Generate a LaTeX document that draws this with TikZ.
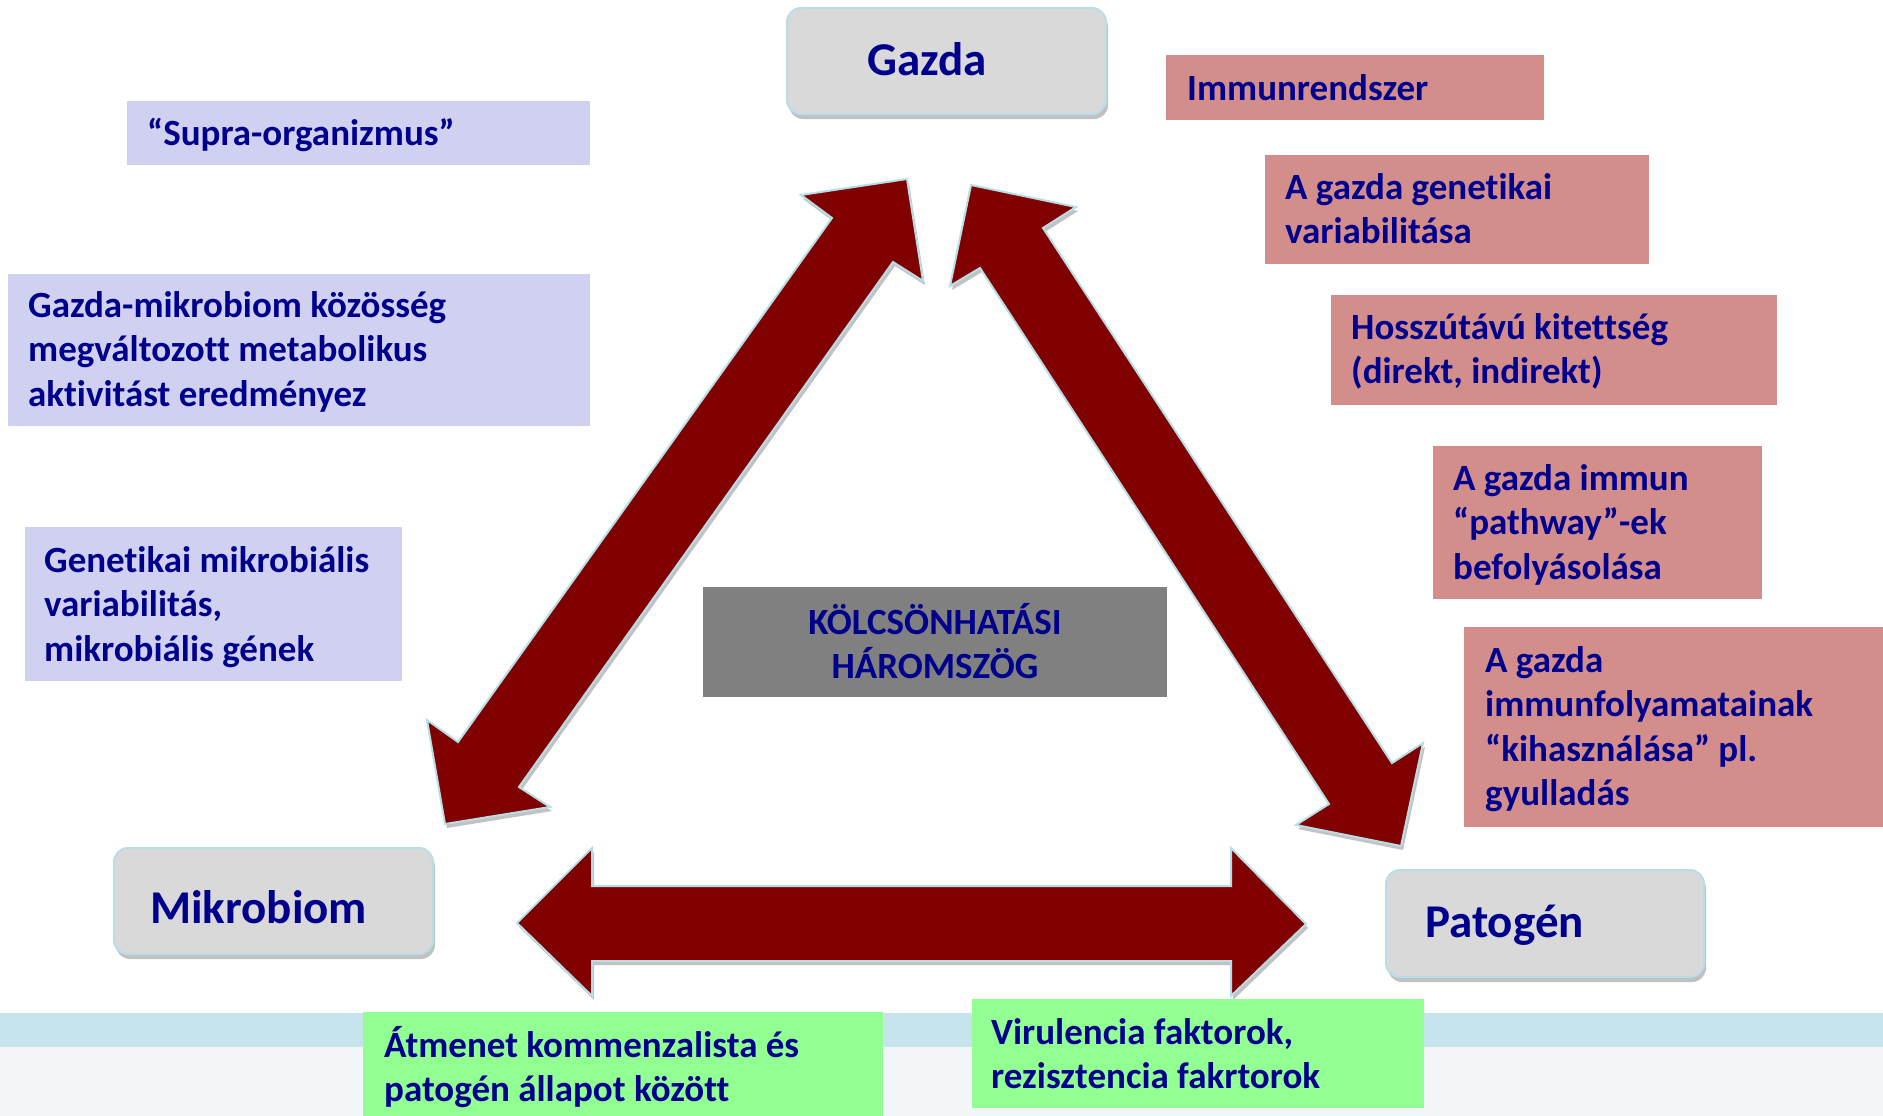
\documentclass[tikz,border=0pt]{standalone}
\usepackage{fontspec}
\setmainfont[Ligatures=NoCommon]{Carlito}
\usetikzlibrary{shadows}
\definecolor{txtblue}{RGB}{0,0,140}
\definecolor{boxgrey}{HTML}{D9D9D9}
\definecolor{boxedge}{HTML}{B7DDE8}
\definecolor{pinkc}{HTML}{D38E8C}
\definecolor{lavc}{HTML}{D0D0F0}
\definecolor{greenc}{HTML}{92FF92}
\definecolor{centerc}{HTML}{808080}
\definecolor{arrowred}{HTML}{800000}
\definecolor{bandc}{HTML}{C6E4EC}
\definecolor{lowc}{HTML}{F2F6F9}
\tikzset{
  mainbox/.style={draw=boxedge, line width=2pt, fill=boxgrey, rounded corners=14pt,
    inner sep=0pt, anchor=north west,
    drop shadow={shadow xshift=2pt, shadow yshift=-5pt, fill=black!35, opacity=0.7}},
  plainbox/.style={inner sep=0pt, anchor=north west, draw=none},
  bigtxt/.style={text=txtblue, font=\fontsize{47}{56}\selectfont\bfseries, inner sep=0pt, anchor=base west},
  boxtxt/.style={text=txtblue, font=\fontsize{37}{44.5}\selectfont\bfseries, inner sep=0pt, anchor=base west, align=left},
  blockarrow/.style={fill=arrowred, draw=boxedge, line width=2pt, line join=miter,
    drop shadow={shadow xshift=2pt, shadow yshift=-4pt, fill=black!40, opacity=0.6}}
}
\begin{document}
\begin{tikzpicture}[x=1pt,y=-1pt]
\useasboundingbox (0,0) rectangle (1883,1116);
% background band
\fill[lowc] (0,1047) rectangle (1883,1116);
\fill[bandc] (0,1013) rectangle (1883,1047);

% block arrows
\draw[blockarrow] (907,179) -- (923,281) -- (893,262) -- (519,787) -- (550,807) -- (445,824)
  -- (427,720) -- (458,742) -- (832,218) -- (801,195) -- cycle;
\draw[blockarrow] (971,185) -- (1076,207) -- (1043,228) -- (1392,763) -- (1423,743) -- (1401,846)
  -- (1296,825) -- (1329,804) -- (980,268) -- (950,286) -- cycle;
\draw[blockarrow] (517,923) -- (592,848) -- (592,886) -- (1231,886) -- (1231,848) -- (1306,924)
  -- (1231,996) -- (1231,961) -- (592,961) -- (592,996) -- cycle;

% main boxes
\node[mainbox, minimum width=319pt, minimum height=106pt] (gazda) at (786,7) {};
\node[bigtxt] (gazdaT) at (867,75) {Gazda};
\node[mainbox, minimum width=319pt, minimum height=106pt] (mikro) at (113,847) {};
\node[bigtxt] (mikroT) at (150,923) {Mikrobiom};
\node[mainbox, minimum width=318pt, minimum height=107pt] (pato) at (1385,869) {};
\node[bigtxt] (patoT) at (1425,937) {Patogén};

% center box
\node[plainbox, fill=centerc, minimum width=464pt, minimum height=110pt] (center) at (703,587) {};
\node[text=txtblue, font=\fontsize{37}{44.5}\selectfont\bfseries, inner sep=0pt,
  anchor=base, align=center] (centerT) at (935,678.5) {KÖLCSÖNHATÁSI\\HÁROMSZÖG};

% pink boxes
\node[plainbox, fill=pinkc, minimum width=378pt, minimum height=65pt] (p1) at (1166,55) {};
\node[boxtxt] (p1T) at (1187,100) {Immunrendszer};
\node[plainbox, fill=pinkc, minimum width=384pt, minimum height=109pt] (p2) at (1265,155) {};
\node[boxtxt] (p2T) at (1285,243.5) {A gazda genetikai\\variabilitása};
\node[plainbox, fill=pinkc, minimum width=446pt, minimum height=110pt] (p3) at (1331,295) {};
\node[boxtxt] (p3T) at (1351,383.5) {Hosszútávú kitettség\\(direkt, indirekt)};
\node[plainbox, fill=pinkc, minimum width=329pt, minimum height=153pt] (p4) at (1433,446) {};
\node[boxtxt] (p4T) at (1453,579) {A gazda immun\\“pathway”-ek\\befolyásolása};
\node[plainbox, fill=pinkc, minimum width=419pt, minimum height=200pt] (p5) at (1464,627) {};
\node[boxtxt] (p5T) at (1485,805.5) {A gazda\\immunfolyamatainak\\“kihasználása” pl.\\gyulladás};

% lavender boxes
\node[plainbox, fill=lavc, minimum width=463pt, minimum height=64pt] (l1) at (127,101) {};
\node[boxtxt] (l1T) at (147,145) {“Supra-organizmus”};
\node[plainbox, fill=lavc, minimum width=582pt, minimum height=152pt] (l2) at (8,274) {};
\node[boxtxt] (l2T) at (28,406) {Gazda-mikrobiom közösség\\megváltozott metabolikus\\aktivitást eredményez};
\node[plainbox, fill=lavc, minimum width=377pt, minimum height=154pt] (l3) at (25,527) {};
\node[boxtxt] (l3T) at (44,661) {Genetikai mikrobiális\\variabilitás,\\mikrobiális gének};

% green boxes
\node[plainbox, fill=greenc, minimum width=520pt, minimum height=104pt] (g1) at (363,1012) {};
\node[boxtxt] (g1T) at (384,1101.5) {Átmenet kommenzalista és\\patogén állapot között};
\node[plainbox, fill=greenc, minimum width=452pt, minimum height=109pt] (g2) at (972,999) {};
\node[boxtxt] (g2T) at (991,1088.5) {Virulencia faktorok,\\rezisztencia fakrtorok};
\end{tikzpicture}
\end{document}
